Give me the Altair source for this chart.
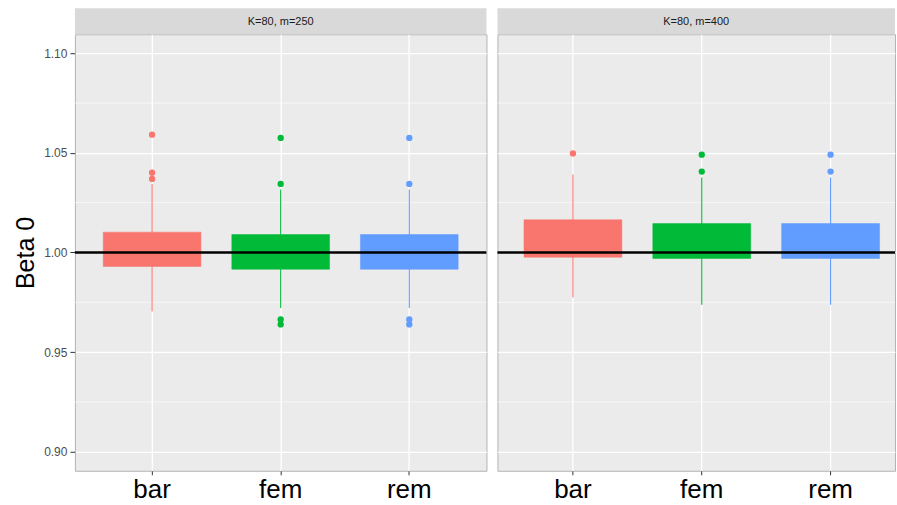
import altair as alt
import pandas as pd

# Boxplot summaries of the Beta 0 estimates, per panel and method
panels = ["K=80, m=250", "K=80, m=400"]
groups = ["bar", "fem", "rem"]
colors = ["#F8766D", "#00BA38", "#619CFF"]

q1 = [[0.9930, 0.9916, 0.9916], [0.9976, 0.9970, 0.9970]]
q3 = [[1.0102, 1.0090, 1.0090], [1.0164, 1.0145, 1.0145]]
whisk_lo = [[0.9704, 0.9721, 0.9721], [0.9776, 0.9738, 0.9738]]
whisk_hi = [[1.0344, 1.0316, 1.0316], [1.0391, 1.0376, 1.0376]]

outliers = [
    {"bar": [1.0591, 1.0400, 1.0369],
     "fem": [1.0575, 1.0344, 0.9664, 0.9639],
     "rem": [1.0575, 1.0344, 0.9664, 0.9639]},
    {"bar": [1.0497],
     "fem": [1.0491, 1.0406],
     "rem": [1.0491, 1.0406]},
]

reference_value = [1.0]
major_ticks = [0.90, 0.95, 1.00, 1.05, 1.10]
minor_ticks = [0.925, 0.975, 1.025, 1.075]
y_domain = [0.8905, 1.1095]

FONT = "Liberation Sans"
HEIGHT = 437
STRIP = 26


def panel(i, width, pad_outer, align, show_axis):
    summary = pd.DataFrame({
        "group": groups,
        "q1": q1[i],
        "q3": q3[i],
        "lo": whisk_lo[i],
        "hi": whisk_hi[i],
    })
    pts = pd.DataFrame(
        [{"group": g, "value": v} for g in groups for v in outliers[i][g]]
    )

    yscale = alt.Scale(domain=y_domain, nice=False, zero=False)
    xscale = alt.Scale(domain=groups, paddingInner=0, paddingOuter=pad_outer,
                       align=align)
    color = alt.Color("group:N", scale=alt.Scale(domain=groups, range=colors),
                      legend=None)

    if show_axis:
        yaxis = alt.Axis(values=major_ticks, format=".2f", title="Beta 0",
                         titleFontSize=25, titleFont=FONT, titleFontWeight="normal",
                         titleColor="black", titlePadding=5,
                         labelFont=FONT, labelFontSize=12, labelColor="#4D4D4D",
                         labelPadding=3, tickColor="#333333", tickSize=5,
                         domain=False, grid=True, gridColor="white", gridWidth=1.3)
    else:
        yaxis = alt.Axis(values=major_ticks, title=None, labels=False, ticks=False,
                         domain=False, grid=True, gridColor="white", gridWidth=1.3)

    xaxis = alt.Axis(title=None, labelFont=FONT, labelFontSize=26,
                     labelColor="black", labelPadding=2, labelAngle=0,
                     tickColor="#333333", tickSize=4, domain=False,
                     grid=True, gridColor="white", gridWidth=1.3)

    strip_data = alt.Data(values=[{"label": panels[i]}])

    strip = alt.Chart(strip_data).mark_rect(fill="#D9D9D9").encode(
        x=alt.value(0), x2=alt.value(width),
        y=alt.value(-STRIP), y2=alt.value(0),
    )
    strip_text = alt.Chart(strip_data).mark_text(
        font=FONT, fontSize=11, color="#1A1A1A", baseline="middle"
    ).encode(
        x=alt.value(width / 2), y=alt.value(-STRIP / 2 + 0.5), text="label:N"
    )

    minor = alt.Chart(pd.DataFrame({"v": minor_ticks})).mark_rule(
        color="white", strokeWidth=0.6
    ).encode(
        y=alt.Y("v:Q", scale=yscale, axis=yaxis),
        x=alt.value(0), x2=alt.value(width),
    )

    base = alt.Chart(summary)
    whiskers = base.mark_rule(strokeWidth=1.1).encode(
        x=alt.X("group:N", scale=xscale, axis=xaxis, sort=groups),
        y=alt.Y("lo:Q", scale=yscale),
        y2="hi:Q",
        color=color,
    )
    boxes = base.mark_bar(width=alt.RelativeBandSize(0.76), strokeWidth=0.5,
                          opacity=1).encode(
        x=alt.X("group:N", scale=xscale, sort=groups),
        y=alt.Y("q1:Q", scale=yscale),
        y2="q3:Q",
        color=color,
        stroke=alt.Stroke("group:N", scale=alt.Scale(domain=groups, range=colors),
                          legend=None),
    )
    dots = alt.Chart(pts).mark_circle(size=40, opacity=1).encode(
        x=alt.X("group:N", scale=xscale, sort=groups),
        y=alt.Y("value:Q", scale=yscale),
        color=color,
    )
    ref = alt.Chart(pd.DataFrame({"r": reference_value})).mark_rule(
        color="black", strokeWidth=2.6
    ).encode(
        y=alt.Y("r:Q", scale=yscale),
        x=alt.value(0), x2=alt.value(width),
    )

    return alt.layer(minor, whiskers, boxes, dots, ref, strip, strip_text).properties(
        width=width, height=HEIGHT
    )


left = panel(0, 412, 0.1, 0.5, True)
right = panel(1, 398, 0.043, 1.0, False)

chart = alt.hconcat(left, right, spacing=7).resolve_scale(
    x="independent", color="shared"
).properties(
    background="white",
    padding={"left": 13, "top": 7, "right": 0, "bottom": 0},
).configure_view(
    fill="#EBEBEB", stroke="#B3B3B3", strokeWidth=1
).configure_axis(
    labelFont=FONT, titleFont=FONT
)

chart.save("out.html", embed_options={"renderer": "svg", "actions": False})
